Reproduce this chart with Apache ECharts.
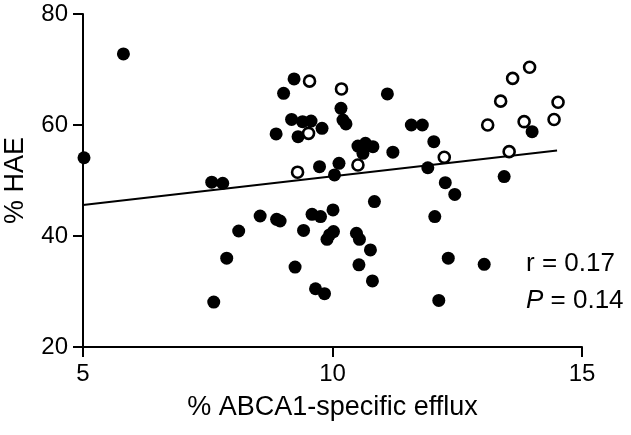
<!DOCTYPE html>
<html>
<head>
<meta charset="utf-8">
<script src="https://cdn.jsdelivr.net/npm/echarts@6/dist/echarts.min.js"></script>
<style>
    html, body { margin: 0; padding: 0; background: #fff; }
    #chart { width: 631px; height: 435px; }
</style>
</head>
<body>
<div id="chart"></div>
<script>
    // filled points (x = % ABCA1-specific efflux, y = % HAE)
    var filledX = [5.81, 5.02, 7.58, 7.80, 8.55, 8.12, 7.88, 7.62, 9.23, 11.10,
                   9.02, 10.17, 10.21, 10.27, 9.18, 9.40, 9.57, 9.79, 8.87, 9.31,
                   10.51, 10.66, 10.81, 10.61, 11.21, 9.74, 10.13, 10.04, 10.84, 8.88,
                   8.95, 9.59, 9.76, 10.01, 9.42, 10.02, 9.94, 9.89, 10.48, 10.54,
                   10.76, 10.53, 10.80, 9.25, 9.66, 9.84, 11.58, 11.80, 12.03, 11.91,
                   12.26, 12.45, 14.00, 13.44, 12.05, 12.32, 13.04, 12.13];
    var filledY = [72.8, 54.1, 49.7, 49.5, 43.6, 40.9, 36.0, 28.1, 68.3, 65.6,
                   65.7, 63.0, 60.9, 60.2, 61.0, 60.6, 60.7, 59.4, 58.4, 57.9,
                   56.2, 56.7, 56.1, 54.9, 55.1, 52.5, 53.1, 51.0, 46.2, 43.0,
                   42.7, 43.9, 43.5, 44.7, 41.0, 40.8, 40.2, 39.4, 40.5, 39.4,
                   37.5, 34.8, 31.9, 34.4, 30.5, 29.6, 60.0, 60.0, 57.0, 52.3,
                   49.6, 47.5, 58.8, 50.7, 43.5, 36.0, 34.9, 28.4];

    // open points
    var openX = [9.54, 10.18, 9.52, 10.51, 9.30, 12.24, 13.11, 13.37, 13.61, 13.95,
                 14.52, 13.84, 14.44, 13.54];
    var openY = [67.9, 66.5, 58.5, 52.8, 51.5, 54.2, 60.0, 64.3, 68.4, 70.4,
                 64.1, 60.6, 61.0, 55.2];

    // regression line end points
    var fitX = [5, 14.5];
    var fitY = [45.6, 55.4];

    var xTicks = [5, 10, 15];
    var yTicks = [20, 40, 60, 80];

    function pairs(xs, ys) {
        return xs.map(function (x, i) { return [x, ys[i]]; });
    }

    var chart = echarts.init(document.getElementById('chart'));
    var font = 'Liberation Sans, Arial, sans-serif';

    chart.setOption({
        animation: false,
        backgroundColor: '#fff',
        textStyle: { fontFamily: font },
        grid: { left: 83, right: 49, top: 14, bottom: 88, containLabel: false, outerBoundsMode: 'none' },
        xAxis: {
            type: 'value',
            min: xTicks[0],
            max: xTicks[xTicks.length - 1],
            interval: 5,
            name: '% ABCA1-specific efflux',
            nameLocation: 'middle',
            nameGap: 47,
            nameTextStyle: { fontSize: 27, color: '#000', fontFamily: font },
            axisLine: { lineStyle: { color: '#000', width: 2 } },
            axisTick: { length: 10, lineStyle: { color: '#000', width: 2 } },
            axisLabel: { fontSize: 24, color: '#000', margin: 15, fontFamily: font },
            splitLine: { show: false }
        },
        yAxis: {
            type: 'value',
            min: yTicks[0],
            max: yTicks[yTicks.length - 1],
            interval: 20,
            name: '% HAE',
            nameLocation: 'middle',
            nameGap: 54,
            nameTextStyle: { fontSize: 27, color: '#000', fontFamily: font },
            axisLine: { show: true, lineStyle: { color: '#000', width: 2 } },
            axisTick: { show: true, length: 10, lineStyle: { color: '#000', width: 2 } },
            axisLabel: { fontSize: 24, color: '#000', margin: 15, fontFamily: font },
            splitLine: { show: false }
        },
        graphic: [
            {
                type: 'text',
                left: 526,
                top: 251,
                style: { text: 'r = 0.17', font: '26px ' + font, fill: '#000' }
            },
            {
                type: 'text',
                left: 526,
                top: 288,
                style: {
                    text: '{i|P} = 0.14',
                    font: '26px ' + font,
                    fill: '#000',
                    rich: { i: { fontStyle: 'italic', fontSize: 26, fontFamily: font } }
                }
            }
        ],
        series: [
            {
                type: 'line',
                data: pairs(fitX, fitY),
                symbol: 'none',
                lineStyle: { color: '#000', width: 2 },
                z: 1
            },
            {
                type: 'scatter',
                data: pairs(filledX, filledY),
                symbol: 'circle',
                symbolSize: 13,
                itemStyle: { color: '#000', opacity: 1 },
                z: 2
            },
            {
                type: 'scatter',
                data: pairs(openX, openY),
                symbol: 'circle',
                symbolSize: 11,
                itemStyle: { color: '#fff', borderColor: '#000', borderWidth: 2.6, opacity: 1 },
                z: 3
            }
        ]
    });
</script>
</body>
</html>
